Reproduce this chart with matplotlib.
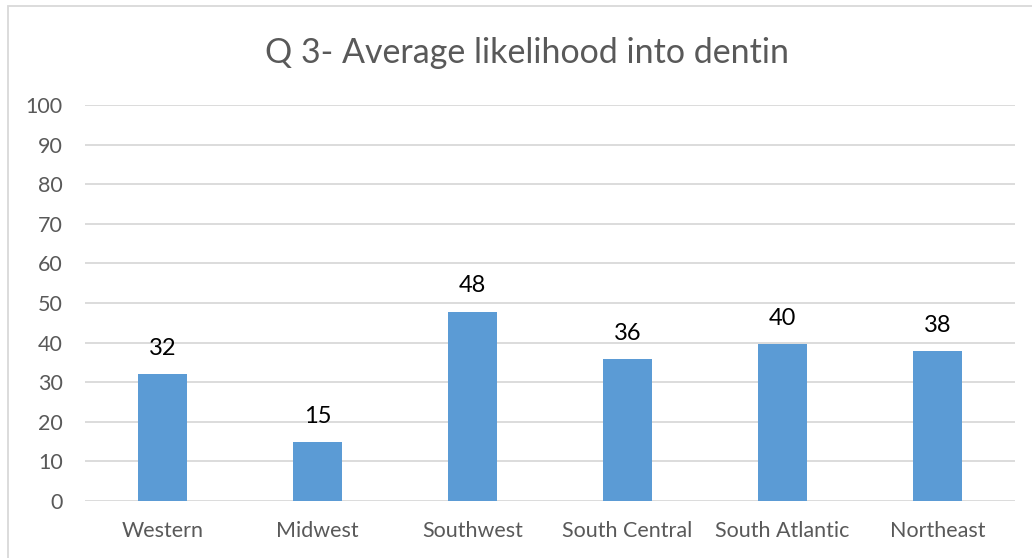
import matplotlib.pyplot as plt
from matplotlib.patches import Rectangle

regions = ["Western", "Midwest", "Southwest", "South Central", "South Atlantic", "Northeast"]
likelihood = [32.1, 14.9, 47.8, 35.9, 39.7, 37.9]
yticks = [0, 10, 20, 30, 40, 50, 60, 70, 80, 90, 100]

plt.rcParams['font.family'] = ['Lato', 'DejaVu Sans']

W, H = 1032, 558
fig = plt.figure(figsize=(W / 100, H / 100), dpi=100)
ax = fig.add_axes([85 / W, 1 - 501 / H, (1015 - 85) / W, (501 - 105) / H])

x = range(len(regions))
bars = ax.bar(x, likelihood, width=0.315, color="#5B9BD5", zorder=3)

for b, v in zip(bars, likelihood):
    ax.annotate(f"{v:.0f}", (b.get_x() + b.get_width() / 2, v),
                xytext=(0, 11), textcoords="offset points",
                ha="center", va="bottom", fontsize=17, color="black")

ax.set_xlim(-0.5, len(regions) - 0.5)
ax.set_ylim(0, 100)
ax.set_yticks(yticks)
ax.set_xticks(list(x))
ax.set_xticklabels(regions)
ax.tick_params(axis="both", length=0, labelsize=15.5, colors="#595959")
ax.tick_params(axis="y", pad=16)
ax.tick_params(axis="x", pad=14.5)
ax.grid(axis="y", color="#D9D9D9", linewidth=1.3, zorder=0)
for s in ax.spines.values():
    s.set_visible(False)

fig.text(527 / W, 1 - 53 / H, "Q 3- Average likelihood into dentin",
         ha="center", va="center", fontsize=24.5, color="#595959")

# chart frame
fig.patches.append(Rectangle((8 / W, -0.1), 1.2, 1 - 6 / H + 0.1,
                             transform=fig.transFigure, fill=False,
                             edgecolor="#D9D9D9", linewidth=1.3))

fig.savefig("out.png", dpi=100)
